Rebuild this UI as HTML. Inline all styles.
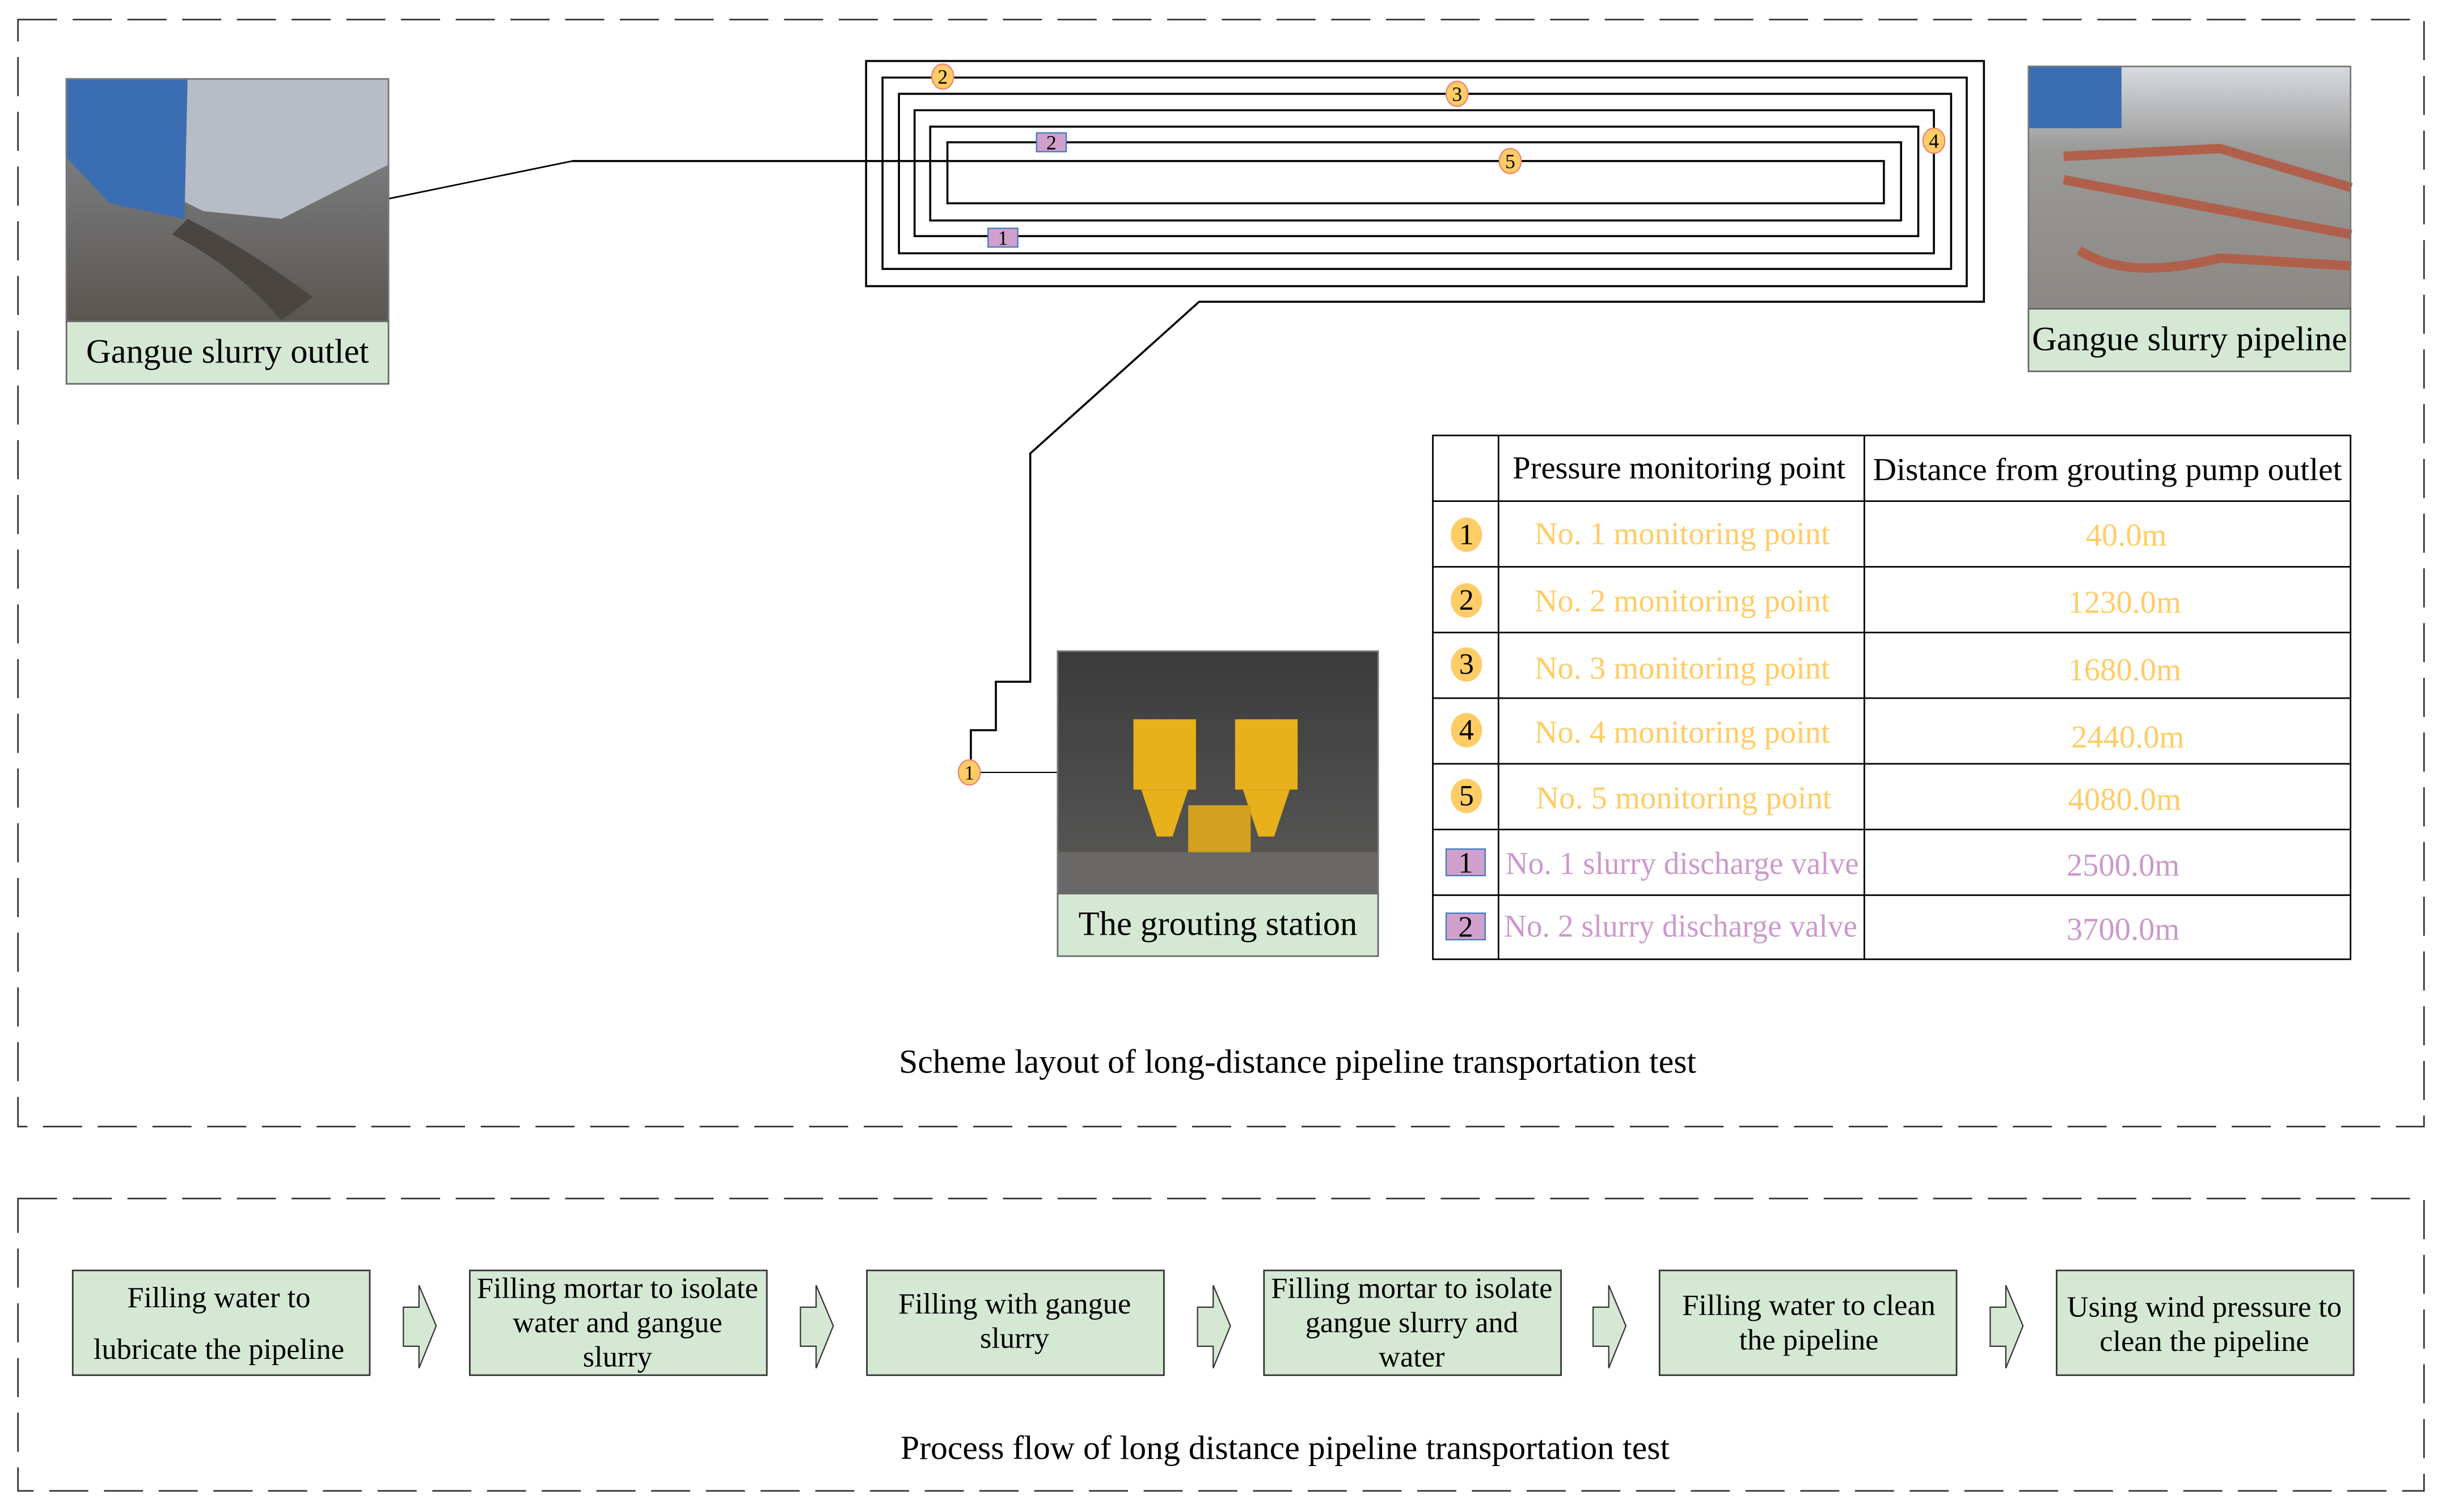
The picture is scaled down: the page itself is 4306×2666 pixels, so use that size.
<!DOCTYPE html>
<html><head><meta charset="utf-8"><style>
html,body{margin:0;padding:0;background:#fff;}
svg{display:block;}
text{font-family:"Liberation Serif",serif;}
</style></head><body>
<svg width="4306" height="2666" viewBox="0 0 1562 967" preserveAspectRatio="none" xmlns="http://www.w3.org/2000/svg">
<defs>
<linearGradient id="g1" x1="0" y1="0" x2="0" y2="1"><stop offset="0" stop-color="#8a8e96"/><stop offset="1" stop-color="#5a5650"/></linearGradient>
<linearGradient id="g2" x1="0" y1="0" x2="0" y2="1"><stop offset="0" stop-color="#d8dbe0"/><stop offset="0.35" stop-color="#9a9a98"/><stop offset="1" stop-color="#8c8884"/></linearGradient>
<linearGradient id="g3" x1="0" y1="0" x2="0" y2="1"><stop offset="0" stop-color="#3a3a3c"/><stop offset="1" stop-color="#5b5a58"/></linearGradient>
</defs>
<rect x="11.5" y="12.5" width="1539" height="708" fill="none" stroke="#333" stroke-width="1" stroke-dasharray="25,10"/>
<rect x="11.5" y="766.5" width="1539" height="187" fill="none" stroke="#333" stroke-width="1" stroke-dasharray="25,10"/>

<rect x="42" y="50" width="207" height="155" fill="url(#g1)"/>
<polygon points="42,50 249,50 249,105 180,140 130,135 100,120 42,100" fill="#b8bcc4"/>
<polygon points="42,50 120,50 118,140 70,130 42,100" fill="#3b6db3"/>
<path d="M120,140 Q160,160 200,190 L180,205 Q150,170 110,150Z" fill="#4a4540"/>
<rect x="42.5" y="50.5" width="206" height="155" fill="none" stroke="#777" stroke-width="1"/>
<rect x="42.5" y="205.5" width="206" height="40" fill="#d5e8d4" stroke="#666" stroke-width="1"/>
<text x="145.5" y="232" font-size="22" text-anchor="middle">Gangue slurry outlet</text>
<line x1="249" y1="127" x2="366" y2="103" stroke="#000" stroke-width="1"/>

<rect x="1297" y="42" width="207" height="155" fill="url(#g2)"/>
<rect x="1297" y="42" width="60" height="40" fill="#3b6db3"/>
<path d="M1320,100 L1420,95 L1504,120 M1320,115 L1504,150 M1330,160 Q1360,180 1420,165 L1504,170" stroke="#b0604a" stroke-width="6" fill="none"/>
<rect x="1297.5" y="42.5" width="206" height="155" fill="none" stroke="#777"/>
<rect x="1297.5" y="197.5" width="206" height="40" fill="#d5e8d4" stroke="#666"/>
<text x="1400.5" y="224" font-size="22" text-anchor="middle">Gangue slurry pipeline</text>

<rect x="676" y="416" width="206" height="155" fill="url(#g3)"/>
<rect x="725" y="460" width="40" height="45" fill="#e8b01a"/>
<rect x="790" y="460" width="40" height="45" fill="#e8b01a"/>
<polygon points="730,505 760,505 750,535 740,535" fill="#e8b01a"/>
<polygon points="795,505 825,505 815,535 805,535" fill="#e8b01a"/>
<rect x="760" y="515" width="40" height="40" fill="#d4a020"/>
<rect x="676" y="545" width="206" height="26" fill="#6a6866"/>
<rect x="676.5" y="416.5" width="205" height="155" fill="none" stroke="#777"/>
<rect x="676.5" y="571.5" width="205" height="40" fill="#d5e8d4" stroke="#666"/>
<text x="779" y="598" font-size="22" text-anchor="middle">The grouting station</text>

<polyline fill="none" stroke="#000" stroke-width="1.3" points="366,103 1205,103 1205,130 606,130 606,91 1216,91 1216,141 595,141 595,81 1227,81 1227,151 585,151 585,70.5 1237,70.5 1237,162 575,162 575,60 1248,60 1248,172 564.5,172 564.5,49.6 1258,49.6 1258,183 554,183 554,39 1269,39 1269,193 767,193 659,290 659,436 637,436 637,467 621,467 621,494"/>
<line x1="621" y1="494" x2="676" y2="494" stroke="#000" stroke-width="0.8"/>

<g font-size="13" text-anchor="middle">
<ellipse cx="603" cy="49" rx="7" ry="8" fill="#ffcc66" stroke="#f08070" stroke-width="0.8"/><text x="603" y="53.5">2</text>
<ellipse cx="932" cy="60" rx="7" ry="8" fill="#ffcc66" stroke="#f08070" stroke-width="0.8"/><text x="932" y="64.5">3</text>
<ellipse cx="1237" cy="90" rx="7" ry="8" fill="#ffcc66" stroke="#f08070" stroke-width="0.8"/><text x="1237" y="94.5">4</text>
<ellipse cx="966" cy="103" rx="7" ry="8" fill="#ffcc66" stroke="#f08070" stroke-width="0.8"/><text x="966" y="107.5">5</text>
<ellipse cx="620" cy="494" rx="7" ry="8" fill="#ffcc66" stroke="#f08070" stroke-width="0.8"/><text x="620" y="498.5">1</text>
<rect x="663" y="85" width="19" height="12" fill="#d0a0cc" stroke="#3a7ac0" stroke-width="0.8"/><text x="672.5" y="95.5">2</text>
<rect x="632" y="146" width="19" height="12" fill="#d0a0cc" stroke="#3a7ac0" stroke-width="0.8"/><text x="641.5" y="156.5">1</text>
</g>

<g stroke="#000" stroke-width="1" fill="none">
<rect x="916.5" y="278.5" width="587" height="335"/>
<line x1="958.5" y1="278" x2="958.5" y2="614"/>
<line x1="1192.5" y1="278" x2="1192.5" y2="614"/>
<line x1="916" y1="320.5" x2="1504" y2="320.5"/>
<line x1="916" y1="362.5" x2="1504" y2="362.5"/>
<line x1="916" y1="404.5" x2="1504" y2="404.5"/>
<line x1="916" y1="446.5" x2="1504" y2="446.5"/>
<line x1="916" y1="488.5" x2="1504" y2="488.5"/>
<line x1="916" y1="530.5" x2="1504" y2="530.5"/>
<line x1="916" y1="572.5" x2="1504" y2="572.5"/>
</g>
<g font-size="20.5">
<text x="1074" y="306" text-anchor="middle">Pressure monitoring point</text>
<text x="1348" y="307" text-anchor="middle" textLength="300" lengthAdjust="spacingAndGlyphs">Distance from grouting pump outlet</text>
<g fill="#ffcc66" text-anchor="middle">
<text x="1076" y="348">No. 1 monitoring point</text><text x="1360" y="349">40.0m</text>
<text x="1076" y="391">No. 2 monitoring point</text><text x="1359" y="392">1230.0m</text>
<text x="1076" y="434">No. 3 monitoring point</text><text x="1359" y="435">1680.0m</text>
<text x="1076" y="475">No. 4 monitoring point</text><text x="1361" y="478">2440.0m</text>
<text x="1077" y="517">No. 5 monitoring point</text><text x="1359" y="518">4080.0m</text>
</g>
<g fill="#cc99cc" text-anchor="middle">
<text x="1076" y="559" textLength="226" lengthAdjust="spacingAndGlyphs">No. 1 slurry discharge valve</text><text x="1358" y="560">2500.0m</text>
<text x="1075" y="599" textLength="226" lengthAdjust="spacingAndGlyphs">No. 2 slurry discharge valve</text><text x="1358" y="601">3700.0m</text>
</g>
</g>
<g font-size="19" text-anchor="middle">
<ellipse cx="938" cy="342" rx="10" ry="11" fill="#ffcc66"/><text x="938" y="348">1</text>
<ellipse cx="938" cy="384" rx="10" ry="11" fill="#ffcc66"/><text x="938" y="390">2</text>
<ellipse cx="938" cy="425" rx="10" ry="11" fill="#ffcc66"/><text x="938" y="431">3</text>
<ellipse cx="938" cy="467" rx="10" ry="11" fill="#ffcc66"/><text x="938" y="473">4</text>
<ellipse cx="938" cy="509" rx="10" ry="11" fill="#ffcc66"/><text x="938" y="515">5</text>
<rect x="925" y="543" width="25" height="17" fill="#d0a0cc" stroke="#3a7ac0" stroke-width="0.8"/><text x="937.5" y="558">1</text>
<rect x="925" y="584" width="25" height="17" fill="#d0a0cc" stroke="#3a7ac0" stroke-width="0.8"/><text x="937.5" y="599">2</text>
</g>

<text x="830" y="686" font-size="21.5" text-anchor="middle" textLength="510" lengthAdjust="spacingAndGlyphs">Scheme layout of long-distance pipeline transportation test</text>

<g fill="#d5e8d4" stroke="#333" stroke-width="1">
<rect x="46.5" y="812.5" width="190" height="67"/>
<rect x="300.5" y="812.5" width="190" height="67"/>
<rect x="554.5" y="812.5" width="190" height="67"/>
<rect x="808.5" y="812.5" width="190" height="67"/>
<rect x="1061.5" y="812.5" width="190" height="67"/>
<rect x="1315.5" y="812.5" width="190" height="67"/>
</g>
<g fill="#d5e8d4" stroke="#333" stroke-width="0.8">
<polygon points="258,836 268,836 268,822 279,848 268,875 268,861 258,861"/>
<polygon points="512,836 522,836 522,822 533,848 522,875 522,861 512,861"/>
<polygon points="766,836 776,836 776,822 787,848 776,875 776,861 766,861"/>
<polygon points="1019,836 1029,836 1029,822 1040,848 1029,875 1029,861 1019,861"/>
<polygon points="1273,836 1283,836 1283,822 1294,848 1283,875 1283,861 1273,861"/>
</g>
<g font-size="19" text-anchor="middle">
<text x="140" y="836">Filling water to</text><text x="140" y="869">lubricate the pipeline</text>
<text x="395" y="830">Filling mortar to isolate</text><text x="395" y="852">water and gangue</text><text x="395" y="874">slurry</text>
<text x="649" y="840">Filling with gangue</text><text x="649" y="862">slurry</text>
<text x="903" y="830">Filling mortar to isolate</text><text x="903" y="852">gangue slurry and</text><text x="903" y="874">water</text>
<text x="1157" y="841">Filling water to clean</text><text x="1157" y="863">the pipeline</text>
<text x="1410" y="842">Using wind pressure to</text><text x="1410" y="864">clean the pipeline</text>
</g>
<text x="822" y="933" font-size="21.5" text-anchor="middle" textLength="492" lengthAdjust="spacingAndGlyphs">Process flow of long distance pipeline transportation test</text>
</svg>
</body></html>
